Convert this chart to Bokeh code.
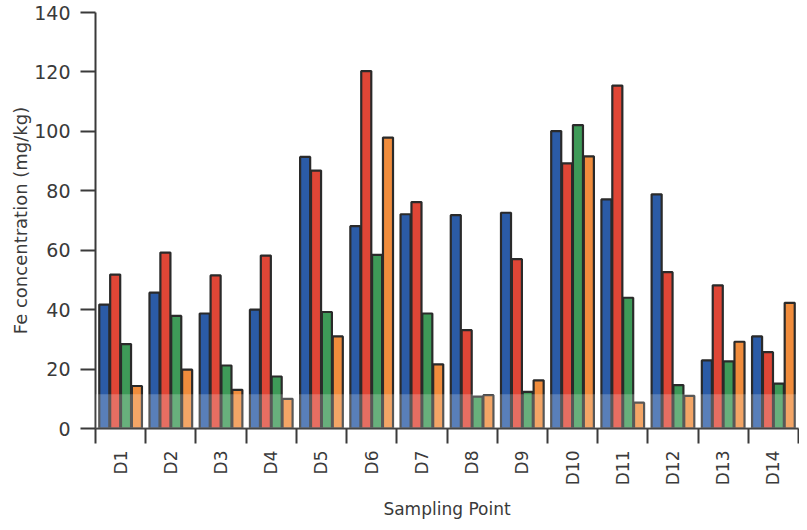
import math
from bokeh.plotting import figure
from bokeh.models import ColumnDataSource, Range1d, FixedTicker, BoxAnnotation
from bokeh.transform import dodge
from bokeh.embed import file_html
from bokeh.resources import INLINE

points = ["D1", "D2", "D3", "D4", "D5", "D6", "D7", "D8", "D9", "D10", "D11", "D12", "D13", "D14"]
series_blue = [41.7, 45.7, 38.7, 40.0, 91.4, 68.1, 72.1, 71.8, 72.6, 100.1, 77.1, 78.8, 22.9, 31.0]
series_red = [51.8, 59.2, 51.5, 58.2, 86.8, 120.3, 76.2, 33.1, 57.0, 89.2, 115.4, 52.6, 48.2, 25.7]
series_green = [28.4, 37.9, 21.2, 17.5, 39.2, 58.4, 38.7, 10.7, 12.3, 102.1, 44.0, 14.6, 22.6, 15.1]
series_orange = [14.3, 19.8, 13.0, 10.0, 31.0, 97.9, 21.6, 11.2, 16.2, 91.6, 8.7, 11.0, 29.2, 42.3]
y_ticks = [0, 20, 40, 60, 80, 100, 120, 140]

xpos = list(range(1, len(points) + 1))
source = ColumnDataSource(dict(x=xpos, blue=series_blue, red=series_red,
                               green=series_green, orange=series_orange))

p = figure(width=799, height=522, output_backend="svg", toolbar_location=None,
           x_range=Range1d(0.5, len(points) + 0.5), y_range=Range1d(0, 140))
p.min_border_left = 95
p.min_border_right = 1
p.min_border_top = 12
p.min_border_bottom = 88

colors = {"blue": "#2b5ba6", "red": "#df4636", "green": "#3e9a58", "orange": "#f08c3c"}
offsets = [-0.325, -0.108, 0.108, 0.325]
for (name, col), off in zip(colors.items(), offsets):
    p.vbar(x=dodge("x", off), top=name, width=0.2, bottom=0, source=source,
           fill_color=col, line_color="#2a2a2a", line_width=2.2)

p.add_layout(BoxAnnotation(bottom=0, top=11.5, fill_color="white", fill_alpha=0.22, line_color=None))

p.xgrid.visible = False
p.ygrid.visible = False
p.outline_line_color = None
p.background_fill_color = "white"
p.border_fill_color = "white"

# y axis
ya = p.yaxis[0]
ya.ticker = FixedTicker(ticks=y_ticks)
ya.axis_line_color = "#3a3a3a"
ya.axis_line_width = 2
ya.major_tick_line_color = "#3a3a3a"
ya.major_tick_line_width = 2
ya.major_tick_out = 15
ya.major_tick_in = 0
ya.minor_tick_line_color = None
ya.major_label_text_font = "DejaVu Sans"
ya.major_label_text_font_size = "19px"
ya.major_label_text_color = "#3a3a3a"
ya.major_label_standoff = 10
ya.axis_label = "Fe concentration (mg/kg)"
ya.axis_label_text_font = "DejaVu Sans"
ya.axis_label_text_font_size = "18px"
ya.axis_label_text_font_style = "normal"
ya.axis_label_text_color = "#3a3a3a"
ya.axis_label_standoff = 0

# x axis
xa = p.xaxis[0]
xa.ticker = FixedTicker(ticks=xpos, minor_ticks=[i + 0.5 for i in range(0, len(points) + 1)])
xa.major_label_overrides = {i: lab for i, lab in zip(xpos, points)}
xa.major_label_orientation = math.pi / 2
xa.axis_line_color = "#3a3a3a"
xa.axis_line_width = 2
xa.major_tick_line_color = None
xa.major_tick_out = 0
xa.major_tick_in = 0
xa.minor_tick_line_color = "#3a3a3a"
xa.minor_tick_line_width = 2
xa.minor_tick_out = 15
xa.minor_tick_in = 0
xa.major_label_text_font = "DejaVu Sans"
xa.major_label_text_font_size = "17px"
xa.major_label_text_color = "#3a3a3a"
xa.major_label_standoff = 7
xa.axis_label = "Sampling Point"
xa.axis_label_text_font = "DejaVu Sans"
xa.axis_label_text_font_size = "17px"
xa.axis_label_text_font_style = "normal"
xa.axis_label_text_color = "#3a3a3a"
xa.axis_label_standoff = 11

open("out.html", "w").write(file_html(p, INLINE))
